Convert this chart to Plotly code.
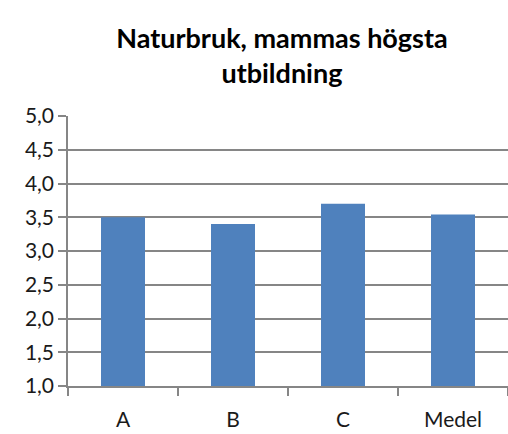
import plotly.graph_objects as go

categories = ["A", "B", "C", "Medel"]
values = [3.5, 3.4, 3.7, 3.54]
y_ticks = [1.0, 1.5, 2.0, 2.5, 3.0, 3.5, 4.0, 4.5, 5.0]
y_tick_labels = ["1,0", "1,5", "2,0", "2,5", "3,0", "3,5", "4,0", "4,5", "5,0"]
title_text = "Naturbruk, mammas högsta<br>utbildning"

fig = go.Figure(go.Bar(x=categories, y=values, marker=dict(color="#4F81BD", line=dict(width=0))))

fig.update_layout(
    width=508, height=434,
    margin=dict(l=68, r=0, t=116, b=48),
    paper_bgcolor="white", plot_bgcolor="white",
    bargap=0.6,
    font=dict(family="Lato, Open Sans, sans-serif", size=21, color="#1a1a1a"),
    title=dict(text="<b>" + title_text + "</b>", x=0.555, xanchor="center", y=0.955, yanchor="top",
               pad=dict(t=0), font=dict(size=27, color="#000000")),
    showlegend=False,
)
fig.update_layout(title_y=0.955 - 28 / 434)
fig.update_xaxes(
    showline=True, linecolor="#868686", linewidth=1.5,
    ticks="outside", ticklen=8, tickcolor="#868686", tickwidth=1.5,
    tickson="boundaries", showgrid=False, ticklabelstandoff=14,
)
fig.update_yaxes(
    range=[1, 5], tickvals=y_ticks, ticktext=y_tick_labels,
    showline=True, linecolor="#868686", linewidth=1.5,
    ticks="outside", ticklen=8, tickcolor="#868686", tickwidth=1.5,
    showgrid=True, gridcolor="#868686", gridwidth=1.5, zeroline=False,
)

fig.write_html("out.html", config={"displayModeBar": False},
               post_script="document.body.style.margin='0';document.body.style.padding='0';")
